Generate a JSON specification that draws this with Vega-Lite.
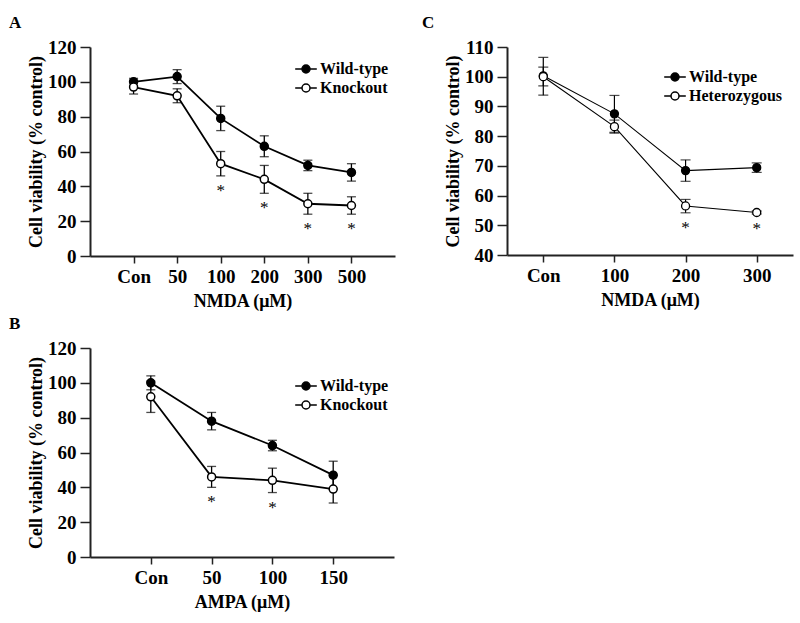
{
  "$schema": "https://vega.github.io/schema/vega-lite/v6.json",
  "background": "white",
  "padding": {"left": 9, "top": 14, "right": 2, "bottom": 2},
  "config": {
    "view": {"stroke": null},
    "font": "Liberation Serif",
    "axis": {
      "grid": false,
      "domainColor": "#222",
      "domainWidth": 2,
      "tickColor": "#222",
      "tickWidth": 1.5,
      "tickSize": 10,
      "labelFont": "Liberation Serif",
      "labelFontWeight": "bold",
      "labelFontSize": 19,
      "labelColor": "black",
      "labelOverlap": false,
      "titleFont": "Liberation Serif",
      "titleFontWeight": "bold",
      "titleFontSize": 18,
      "titleColor": "black"
    },
    "axisX": {"labelAngle": 0, "labelPadding": 4, "titlePadding": 6, "tickSize": 7},
    "axisY": {"labelPadding": 4, "titlePadding": 2},
    "title": {"font": "Liberation Serif", "fontWeight": "bold", "fontSize": 17, "color": "black", "anchor": "start", "frame": "group"},
    "legend": {
      "orient": "none",
      "labelFont": "Liberation Serif",
      "labelFontWeight": "bold",
      "labelFontSize": 16,
      "labelColor": "black",
      "symbolType": "M-2.7,0L-1,0M1,0L2.7,0M1,0A1,1,0,1,1,-1,0A1,1,0,1,1,1,0",
      "symbolSize": 64,
      "symbolStrokeColor": "black",
      "symbolStrokeWidth": 1.5,
      "symbolOpacity": 1,
      "labelOffset": 6,
      "rowPadding": 3,
      "padding": 0,
      "title": null
    }
  },
  "resolve": {"scale": {"x": "independent", "y": "independent", "fill": "independent"}, "legend": {"fill": "independent"}},
  "spacing": 5,
  "vconcat": [
    {
      "spacing": 27,
      "resolve": {"scale": {"x": "independent", "y": "independent", "fill": "independent"}, "legend": {"fill": "independent"}},
      "hconcat": [
        {
          "title": {"text": "A", "dx": -81, "offset": 6},
          "width": 305,
          "height": 209,
          "data": {"values": [
            {"group": "Wild-type", "dose": "Con", "mean": 100, "lo": 98, "hi": 102, "sig": false},
            {"group": "Wild-type", "dose": "50", "mean": 103, "lo": 99, "hi": 107, "sig": false},
            {"group": "Wild-type", "dose": "100", "mean": 79, "lo": 72, "hi": 86, "sig": false},
            {"group": "Wild-type", "dose": "200", "mean": 63, "lo": 57, "hi": 69, "sig": false},
            {"group": "Wild-type", "dose": "300", "mean": 52, "lo": 49, "hi": 55, "sig": false},
            {"group": "Wild-type", "dose": "500", "mean": 48, "lo": 43, "hi": 53, "sig": false},
            {"group": "Knockout", "dose": "Con", "mean": 97, "lo": 93, "hi": 101, "sig": false},
            {"group": "Knockout", "dose": "50", "mean": 92, "lo": 88, "hi": 96, "sig": false},
            {"group": "Knockout", "dose": "100", "mean": 53, "lo": 46, "hi": 60, "sig": true},
            {"group": "Knockout", "dose": "200", "mean": 44, "lo": 36, "hi": 52, "sig": true},
            {"group": "Knockout", "dose": "300", "mean": 30, "lo": 24, "hi": 36, "sig": true},
            {"group": "Knockout", "dose": "500", "mean": 29, "lo": 24, "hi": 34, "sig": true}
          ]},
          "encoding": {
            "x": {"field": "dose", "type": "ordinal", "sort": ["Con", "50", "100", "200", "300", "500"], "scale": {"type": "point", "padding": 1.07}, "axis": {"title": "NMDA (μM)"}}
          },
          "layer": [
            {"mark": {"type": "line", "color": "black", "strokeWidth": 1.8},
             "encoding": {"y": {"field": "mean", "type": "quantitative", "scale": {"domain": [0, 120]}, "axis": {"values": [0, 20, 40, 60, 80, 100, 120], "title": "Cell viability (% control)"}}, "detail": {"field": "group"}}},
            {"mark": {"type": "rule", "color": "black", "strokeWidth": 1.3},
             "encoding": {"y": {"field": "lo", "type": "quantitative", "axis": {"values": [0, 20, 40, 60, 80, 100, 120], "title": "Cell viability (% control)"}}, "y2": {"field": "hi"}, "detail": {"field": "group"}}},
            {"mark": {"type": "tick", "color": "black", "thickness": 1.3, "size": 9, "orient": "horizontal"},
             "encoding": {"y": {"field": "lo", "type": "quantitative", "axis": {"values": [0, 20, 40, 60, 80, 100, 120], "title": "Cell viability (% control)"}}}},
            {"mark": {"type": "tick", "color": "black", "thickness": 1.3, "size": 9, "orient": "horizontal"},
             "encoding": {"y": {"field": "hi", "type": "quantitative", "axis": {"values": [0, 20, 40, 60, 80, 100, 120], "title": "Cell viability (% control)"}}}},
            {"mark": {"type": "point", "shape": "circle", "filled": true, "stroke": "black", "strokeWidth": 1.5, "size": 64, "opacity": 1},
             "encoding": {"y": {"field": "mean", "type": "quantitative", "axis": {"values": [0, 20, 40, 60, 80, 100, 120], "title": "Cell viability (% control)"}},
               "fill": {"field": "group", "type": "nominal", "scale": {"domain": ["Wild-type", "Knockout"], "range": ["black", "white"]}, "legend": {"legendX": 208, "legendY": 14}}}},
            {"transform": [{"filter": "datum.sig"}],
             "mark": {"type": "text", "text": "*", "baseline": "top", "dy": 7, "fontSize": 17, "fill": "black", "opacity": 0.99},
             "encoding": {"y": {"field": "lo", "type": "quantitative", "axis": {"values": [0, 20, 40, 60, 80, 100, 120], "title": "Cell viability (% control)"}}}}
          ]
        },
        {
          "title": {"text": "C", "dx": -85, "offset": 6},
          "width": 286,
          "height": 208,
          "data": {"values": [
            {"group": "Wild-type", "dose": "Con", "mean": 100.3, "lo": 93.8, "hi": 106.5, "sig": false},
            {"group": "Wild-type", "dose": "100", "mean": 87.5, "lo": 81.3, "hi": 93.7, "sig": false},
            {"group": "Wild-type", "dose": "200", "mean": 68.4, "lo": 64.8, "hi": 72.0, "sig": false},
            {"group": "Wild-type", "dose": "300", "mean": 69.4, "lo": 67.8, "hi": 71.0, "sig": false},
            {"group": "Heterozygous", "dose": "Con", "mean": 100, "lo": 96.9, "hi": 103.2, "sig": false},
            {"group": "Heterozygous", "dose": "100", "mean": 83.2, "lo": 81.0, "hi": 85.4, "sig": false},
            {"group": "Heterozygous", "dose": "200", "mean": 56.5, "lo": 54.2, "hi": 58.7, "sig": true},
            {"group": "Heterozygous", "dose": "300", "mean": 54.3, "lo": 53.8, "hi": 54.8, "sig": true}
          ]},
          "encoding": {
            "x": {"field": "dose", "type": "ordinal", "sort": ["Con", "100", "200", "300"], "scale": {"type": "point", "padding": 0.51}, "axis": {"title": "NMDA (μM)"}}
          },
          "layer": [
            {"mark": {"type": "line", "color": "black", "strokeWidth": 1.1},
             "encoding": {"y": {"field": "mean", "type": "quantitative", "scale": {"domain": [40, 110]}, "axis": {"values": [40, 50, 60, 70, 80, 90, 100, 110], "title": "Cell viability (% control)"}}, "detail": {"field": "group"}}},
            {"mark": {"type": "rule", "color": "black", "strokeWidth": 1.2},
             "encoding": {"y": {"field": "lo", "type": "quantitative", "axis": {"values": [40, 50, 60, 70, 80, 90, 100, 110], "title": "Cell viability (% control)"}}, "y2": {"field": "hi"}, "detail": {"field": "group"}}},
            {"mark": {"type": "tick", "color": "black", "thickness": 1.2, "size": 10, "orient": "horizontal"},
             "encoding": {"y": {"field": "lo", "type": "quantitative", "axis": {"values": [40, 50, 60, 70, 80, 90, 100, 110], "title": "Cell viability (% control)"}}}},
            {"mark": {"type": "tick", "color": "black", "thickness": 1.2, "size": 10, "orient": "horizontal"},
             "encoding": {"y": {"field": "hi", "type": "quantitative", "axis": {"values": [40, 50, 60, 70, 80, 90, 100, 110], "title": "Cell viability (% control)"}}}},
            {"mark": {"type": "point", "shape": "circle", "filled": true, "stroke": "black", "strokeWidth": 1.3, "size": 64, "opacity": 1},
             "encoding": {"y": {"field": "mean", "type": "quantitative", "axis": {"values": [40, 50, 60, 70, 80, 90, 100, 110], "title": "Cell viability (% control)"}},
               "fill": {"field": "group", "type": "nominal", "scale": {"domain": ["Wild-type", "Heterozygous"], "range": ["black", "white"]}, "legend": {"legendX": 160, "legendY": 22}}}},
            {"transform": [{"filter": "datum.sig"}],
             "mark": {"type": "text", "text": "*", "baseline": "top", "dy": 7, "fontSize": 17, "fill": "black", "opacity": 0.99},
             "encoding": {"y": {"field": "lo", "type": "quantitative", "axis": {"values": [40, 50, 60, 70, 80, 90, 100, 110], "title": "Cell viability (% control)"}}}}
          ]
        }
      ]
    },
    {
      "title": {"text": "B", "dx": -81, "offset": 6},
      "width": 304,
      "height": 209,
      "data": {"values": [
        {"group": "Wild-type", "dose": "Con", "mean": 100, "lo": 96, "hi": 104, "sig": false},
        {"group": "Wild-type", "dose": "50", "mean": 78, "lo": 73, "hi": 83, "sig": false},
        {"group": "Wild-type", "dose": "100", "mean": 64, "lo": 61, "hi": 67, "sig": false},
        {"group": "Wild-type", "dose": "150", "mean": 47, "lo": 39, "hi": 55, "sig": false},
        {"group": "Knockout", "dose": "Con", "mean": 92, "lo": 83, "hi": 101, "sig": false},
        {"group": "Knockout", "dose": "50", "mean": 46, "lo": 40, "hi": 52, "sig": true},
        {"group": "Knockout", "dose": "100", "mean": 44, "lo": 37, "hi": 51, "sig": true},
        {"group": "Knockout", "dose": "150", "mean": 39, "lo": 31, "hi": 47, "sig": false}
      ]},
      "encoding": {
        "x": {"field": "dose", "type": "ordinal", "sort": ["Con", "50", "100", "150"], "scale": {"type": "point", "padding": 1.045}, "axis": {"title": "AMPA (μM)"}}
      },
      "layer": [
        {"mark": {"type": "line", "color": "black", "strokeWidth": 1.8},
         "encoding": {"y": {"field": "mean", "type": "quantitative", "scale": {"domain": [0, 120]}, "axis": {"values": [0, 20, 40, 60, 80, 100, 120], "title": "Cell viability (% control)"}}, "detail": {"field": "group"}}},
        {"mark": {"type": "rule", "color": "black", "strokeWidth": 1.3},
         "encoding": {"y": {"field": "lo", "type": "quantitative", "axis": {"values": [0, 20, 40, 60, 80, 100, 120], "title": "Cell viability (% control)"}}, "y2": {"field": "hi"}, "detail": {"field": "group"}}},
        {"mark": {"type": "tick", "color": "black", "thickness": 1.3, "size": 9, "orient": "horizontal"},
         "encoding": {"y": {"field": "lo", "type": "quantitative", "axis": {"values": [0, 20, 40, 60, 80, 100, 120], "title": "Cell viability (% control)"}}}},
        {"mark": {"type": "tick", "color": "black", "thickness": 1.3, "size": 9, "orient": "horizontal"},
         "encoding": {"y": {"field": "hi", "type": "quantitative", "axis": {"values": [0, 20, 40, 60, 80, 100, 120], "title": "Cell viability (% control)"}}}},
        {"mark": {"type": "point", "shape": "circle", "filled": true, "stroke": "black", "strokeWidth": 1.5, "size": 64, "opacity": 1},
         "encoding": {"y": {"field": "mean", "type": "quantitative", "axis": {"values": [0, 20, 40, 60, 80, 100, 120], "title": "Cell viability (% control)"}},
           "fill": {"field": "group", "type": "nominal", "scale": {"domain": ["Wild-type", "Knockout"], "range": ["black", "white"]}, "legend": {"legendX": 208, "legendY": 30}}}},
        {"transform": [{"filter": "datum.sig"}],
         "mark": {"type": "text", "text": "*", "baseline": "top", "dy": 7, "fontSize": 17, "fill": "black", "opacity": 0.99},
         "encoding": {"y": {"field": "lo", "type": "quantitative", "axis": {"values": [0, 20, 40, 60, 80, 100, 120], "title": "Cell viability (% control)"}}}}
      ]
    }
  ]
}
